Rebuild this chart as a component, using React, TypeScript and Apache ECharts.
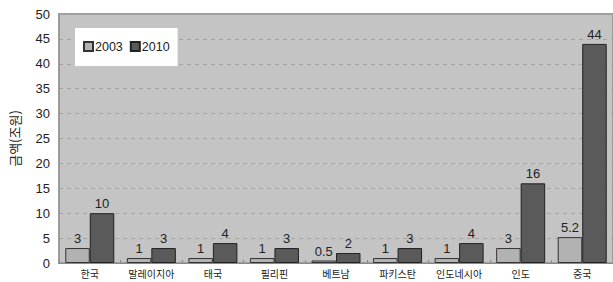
import React, { useEffect, useRef } from "react";
import * as echarts from "echarts";

const categories = ["한국", "말레이지아", "태국", "필리핀", "베트남", "파키스탄", "인도네시아", "인도", "중국"];
const values2003 = [3, 1, 1, 1, 0.5, 1, 1, 3, 5.2];
const values2010 = [10, 3, 4, 3, 2, 3, 4, 16, 44];
const seriesNames = ["2003", "2010"];
const yTicks = { min: 0, max: 50, interval: 5 };

export default function App() {
  const ref = useRef<HTMLDivElement>(null);
  useEffect(() => {
    const chart = echarts.init(ref.current!, null, { renderer: "svg" });
    const font = "Liberation Sans, Arial, sans-serif";
    const labelStyle = { show: true, position: "top" as const, color: "#222", fontSize: 13, fontFamily: font, distance: 3 };
    chart.setOption({
      animation: false,
      backgroundColor: "#ffffff",
      grid: {
        left: 57, top: 14, width: 560, bottom: 19,
        backgroundColor: "#c4c4c4", show: true, borderWidth: 2, borderColor: "#9e9e9e",
      },
      legend: {
        data: seriesNames,
        left: 75,
        top: 28,
        backgroundColor: "#ffffff",
        padding: [12, 8, 13, 8],
        itemWidth: 9,
        itemHeight: 9,
        itemGap: 7,
        icon: "rect",
        textStyle: { color: "#222", fontSize: 12.5, fontFamily: font, padding: [0, 0, 0, -3] },
      },
      xAxis: {
        type: "category",
        data: categories,
        axisLine: { show: true, lineStyle: { color: "#8a8a8a", width: 1 } },
        axisTick: { show: true, length: -3, lineStyle: { color: "#8a8a8a" } },
        axisLabel: { interval: 0, color: "#222", fontSize: 10, fontFamily: "Noto Sans CJK KR, sans-serif", margin: 5 },
      },
      yAxis: {
        type: "value",
        min: yTicks.min,
        max: yTicks.max,
        interval: yTicks.interval,
        name: "금액(조원)",
        nameLocation: "middle",
        nameGap: 38,
        nameRotate: 90,
        nameTextStyle: { color: "#222", fontSize: 13, fontFamily: "Noto Sans CJK KR, sans-serif" },
        axisLine: { show: true, lineStyle: { color: "#9a9a9a", width: 2 } },
        axisTick: { show: false },
        axisLabel: { color: "#222", fontSize: 13, fontFamily: font, margin: 9 },
        splitLine: { show: true, lineStyle: { color: "#a4a4a4", type: [4, 4], width: 1 } },
      },
      series: [
        {
          name: seriesNames[0],
          type: "bar",
          data: values2003,
          barWidth: 24.5,
          barGap: "0%",
          itemStyle: { color: "#b2b2b2", borderColor: "#333", borderWidth: 1 },
          label: labelStyle,
        },
        {
          name: seriesNames[1],
          type: "bar",
          data: values2010,
          barWidth: 24.5,
          barGap: "0%",
          itemStyle: { color: "#5a5a5a", borderColor: "#222", borderWidth: 1 },
          label: labelStyle,
        },
      ],
    });
    return () => chart.dispose();
  }, []);
  return <div ref={ref} style={{ position: "absolute", left: 0, top: 0, width: 613, height: 282 }} />;
}
